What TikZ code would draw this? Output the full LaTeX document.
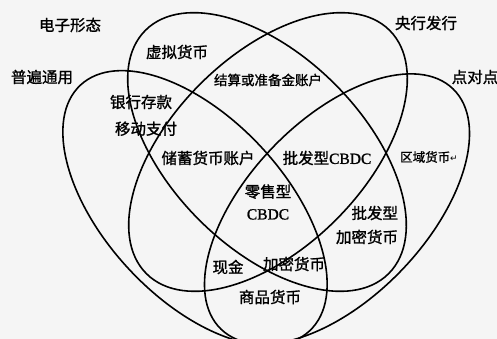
\documentclass[tikz,border=0pt]{standalone}
\usepackage{fontspec}
\newfontfamily\cjk[FakeBold=1.2]{Noto Sans CJK SC}
\newfontfamily\lat[FakeBold=1.2]{Liberation Serif}
\newfontfamily\sym{DejaVu Sans}
\usetikzlibrary{positioning, shapes.geometric}

\begin{document}
\begin{tikzpicture}[x=1pt,y=-1pt,font=\cjk\fontsize{15.5}{18}\selectfont]
\tikzset{petal/.style={draw,ellipse,line width=1.6pt,inner sep=0pt},
  txt/.style={inner sep=0pt,align=center}}
\useasboundingbox (0,0) rectangle (497,339);
\fill[black!4] (0,0) rectangle (497,339);
\clip (0,0) rectangle (497,339);

\node[petal,minimum width=336pt,minimum height=180pt,rotate=-47] (universal) at (195,208) {};
\node[petal,minimum width=344pt,minimum height=192pt,rotate=-45] (electronic) at (267,152) {};
\node[petal,minimum width=344pt,minimum height=192pt,rotate=45] (cbissued) at (268,152) {};
\node[petal,minimum width=334pt,minimum height=178pt,rotate=46] (peer) at (337,209) {};

\node[txt] (elecname) at (70,25) {电子形态};
\node[txt] (univname) at (42,77) {普遍通用};
\node[txt] (cbname) at (426,23) {央行发行};
\node[txt] (peername) at (475,77) {点对点};

\node[txt] (virtual) at (177,52) {虚拟货币};
\node[txt] (deposit) at (141,102) {银行存款};
\node[txt,below=12pt of deposit,xshift=5pt] (mobile) {移动支付};
\node[txt,font=\cjk\fontsize{13.5}{16}\selectfont] (settle) at (268,80) {结算或准备金账户};
\node[txt] (savings) at (208,158) {储蓄货币账户};
\node[txt] (wholesale) at (327,158) {批发型{\lat CBDC}};
\node[txt,font=\cjk\fontsize{12.5}{14}\selectfont] (local) at (429,157) {区域货币{\sym\fontsize{9}{10}\selectfont ↵}};
\node[txt] (retail) at (268,202) {零售型\\[4pt]{\lat CBDC}};
\node[txt,align=right] (wcrypto) at (367,225) {批发型\\[6pt]加密货币};
\node[txt] (cash) at (228,267) {现金};
\node[txt] (crypto) at (294,264) {加密货币};
\node[txt] (commodity) at (270,297) {商品货币};
\end{tikzpicture}
\end{document}
